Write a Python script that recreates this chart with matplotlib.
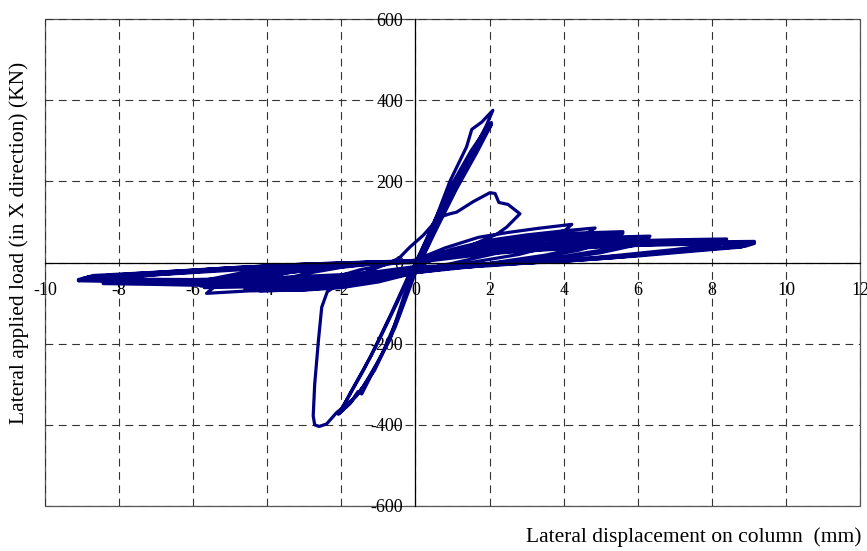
import matplotlib
matplotlib.use('Agg')
import matplotlib.pyplot as plt
from matplotlib.patches import Rectangle

plt.rcParams['font.family'] = ['Liberation Serif', 'DejaVu Serif']
plt.rcParams['axes.unicode_minus'] = False

# early near-elastic cycles (disp mm, load kN)
elastic_disp = [0.0, 0.45, 0.93, 1.38, 1.52, 1.79, 2.09,
                1.9, 1.45, 0.95, 0.45, 0.05,
                -0.3, -0.69, -1.05, -1.41, -1.77, -2.08,
                -1.8, -1.4, -0.95, -0.5, -0.1, 0.1,
                0.5, 1.0, 1.5, 1.8, 2.05,
                1.75, 1.25, 0.7, 0.2, -0.05,
                -0.45, -0.9, -1.45, -1.55, -1.75, -2.05,
                -1.75, -1.2, -0.65, -0.15, 0.1,
                0.55, 1.05, 1.55, 2.05,
                1.65, 1.1, 0.5, 0.0]
elastic_load = [0, 85, 200, 285, 328, 346, 375,
                335, 255, 165, 75, -5,
                -80, -190, -250, -306, -348, -374,
                -330, -265, -185, -100, -20, 15,
                100, 195, 275, 315, 345,
                295, 210, 115, 15, -30,
                -130, -225, -324, -318, -345, -372,
                -320, -230, -125, -25, 10,
                100, 190, 270, 340,
                270, 180, 70, -25]

# negative peak followed by strength drop
drop_disp = [-0.55, -1.1, -1.6, -2.13, -2.4, -2.6, -2.72, -2.76, -2.72,
             -2.62, -2.53, -2.38, -2.1, -1.5, -0.9]
drop_load = [-160, -265, -330, -370, -398, -404, -400, -378, -300,
             -193, -110, -72, -55, -30, -8]

# positive excursion with the bump near 2 mm
bump_disp = [-0.45, -0.15, 0.21, 0.48, 0.66, 0.93, 1.11, 1.56, 2.01,
             2.15, 2.25, 2.5, 2.82, 2.46, 2.2, 1.5, 0.6]
bump_load = [10, 38, 67, 95, 112, 120, 124, 150, 172,
             170, 148, 143, 120, 87, 70, 42, 12]

# large-amplitude pinched cycles, one row per half cycle
fan_disp = [
    0.0, -1.0, -2.0, -2.8,
    -2.5, -1.5, -0.5, 0.0,
    0.8, 1.7, 2.5, 3.3, 4.22,
    4.05, 3.3, 2.3, 1.0, 0.0,
    -1.0, -2.0, -3.0, -4.2,
    -3.9, -3.0, -2.0, -1.0, 0.0,
    1.0, 2.0, 3.0, 4.0, 4.85,
    4.6, 3.8, 2.8, 1.5, 0.0,
    -1.0, -2.0, -3.0, -4.6,
    -4.3, -3.5, -2.0, -1.0, 0.0,
    1.0, 2.0, 3.0, 4.2, 5.6,
    5.3, 4.5, 3.5, 2.0, 0.0,
    -1.0, -2.0, -3.0, -4.5, -5.64,
    -5.4, -4.5, -3.0, -1.5, 0.0,
    1.0, 2.0, 3.0, 4.5, 5.6,
    5.3, 4.4, 3.2, 1.8, 0.0,
    -1.0, -2.0, -3.0, -4.5, -5.7,
    -5.5, -4.5, -3.0, -1.5, 0.0,
    1.0, 2.0, 3.5, 5.0, 6.33,
    6.0, 5.0, 4.0, 2.5, 0.0,
    -1.0, -2.0, -3.0, -4.5, -5.8,
    -5.6, -4.5, -3.0, -1.5, 0.0,
    1.0, 2.0, 3.5, 5.0, 6.3,
    6.0, 5.0, 3.8, 2.2, 0.0,
    -1.0, -2.0, -4.0, -6.0, -7.0, -8.43,
    -8.1, -7.0, -5.0, -3.0, -1.0, 0.0,
    1.5, 3.0, 5.0, 7.0, 8.4,
    8.1, 7.0, 5.5, 4.0, 2.0, 0.0,
    -1.0, -2.0, -4.0, -6.0, -7.5, -8.4,
    -8.1, -7.0, -5.0, -3.0, -1.0, 0.0,
    1.5, 3.0, 5.0, 7.0, 8.4,
    8.1, 7.0, 5.5, 4.0, 2.0, 0.0,
    -1.0, -2.0, -4.0, -6.0, -8.0, -9.1,
    -8.8, -7.5, -6.0, -4.0, -2.0, 0.0,
    1.5, 3.0, 5.0, 7.0, 9.15,
    8.8, 7.5, 6.0, 4.0, 2.0, 0.0,
    -1.0, -2.0, -4.0, -6.0, -8.0, -9.1,
    -8.8, -7.5, -6.0, -4.0, -2.0, 0.0,
    2.0, 4.0, 6.0, 8.0, 9.15,
    8.9, 7.5, 6.0, 4.0, 2.0, 0.0,
    -1.0, -2.0, -4.0, -6.0, -8.0, -9.0,
    -8.7, -7.0, -5.0, -3.0, -1.0, 0.0,
    1.5, 3.0, 5.0, 7.0, 9.1,
    8.8, 7.5, 6.0, 4.0, 2.0, 0.0,
]
fan_load = [
    -12, -38, -55, -66,
    -45, -18, 0, 6,
    36, 62, 74, 84, 94,
    80, 55, 25, -2, -20,
    -44, -60, -67, -70,
    -50, -28, -12, -2, 4,
    33, 55, 68, 78, 85,
    70, 44, 20, 0, -18,
    -40, -54, -60, -66,
    -45, -26, -8, 0, 5,
    30, 50, 63, 72, 76,
    60, 38, 18, -2, -25,
    -48, -62, -68, -70, -76,
    -58, -38, -20, -6, 2,
    26, 44, 56, 66, 72,
    55, 30, 10, -5, -22,
    -42, -52, -57, -60, -62,
    -48, -30, -14, -3, 3,
    25, 42, 55, 62, 65,
    50, 30, 15, 0, -15,
    -32, -42, -48, -54, -58,
    -42, -22, -8, 0, 4,
    22, 36, 47, 55, 60,
    44, 24, 8, -4, -25,
    -44, -52, -56, -56, -54, -52,
    -40, -30, -17, -7, 0, 2,
    28, 42, 52, 56, 58,
    45, 32, 18, 5, -8, -18,
    -34, -42, -48, -50, -49, -48,
    -36, -26, -13, -4, 2, 4,
    24, 36, 46, 52, 54,
    40, 27, 13, 3, -6, -22,
    -38, -46, -50, -50, -46, -42,
    -35, -27, -19, -9, -2, 3,
    25, 37, 45, 50, 52,
    42, 32, 20, 5, -6, -15,
    -28, -36, -44, -48, -47, -45,
    -40, -33, -25, -14, -5, 0,
    22, 34, 42, 46, 47,
    40, 30, 18, 4, -6, -10,
    -22, -30, -38, -42, -41, -40,
    -32, -24, -13, -4, 1, 3,
    20, 30, 40, 46, 50,
    38, 28, 16, 3, -5, -18,
]

x_ticks = list(range(-10, 13, 2))
y_ticks = list(range(-600, 601, 200))

disp = elastic_disp + drop_disp + bump_disp + fan_disp
load = elastic_load + drop_load + bump_load + fan_load

fig = plt.figure(figsize=(8.67, 5.51), dpi=100)
ax = fig.add_axes([45 / 867, 1 - 506 / 551, 815 / 867, 487 / 551])

ax.plot(disp, load, color='#000080', linewidth=2.3, solid_joinstyle='round', zorder=2)

ax.set_xlim(-10, 12)
ax.set_ylim(-600, 600)
ax.set_xticks(x_ticks)
ax.set_yticks(y_ticks)
ax.grid(True, color='#333333', linestyle=(0, (7, 5)), linewidth=0.8)

for side in ['top', 'right']:
    ax.spines[side].set_visible(False)
ax.spines['left'].set_position('zero')
ax.spines['bottom'].set_position('zero')
ax.spines['left'].set_linewidth(0.9)
ax.spines['bottom'].set_linewidth(0.9)

ax.add_patch(Rectangle((0, 0), 1, 1, transform=ax.transAxes, fill=False,
                       edgecolor='#555555', linewidth=0.9, clip_on=False, zorder=1))

ax.tick_params(axis='x', length=0, pad=14, labelsize=13)
ax.tick_params(axis='y', length=0, pad=9, labelsize=13)

fig.text(19 / 867, 1 - 243 / 551, 'Lateral applied load (in X direction) (KN)',
         rotation=90, ha='center', va='center', fontsize=15.5)
fig.text(862 / 867, 1 - 537 / 551, 'Lateral displacement on column  (mm)',
         ha='right', va='center', fontsize=15.5)

plt.savefig('out.png', dpi=100)
plt.close()
